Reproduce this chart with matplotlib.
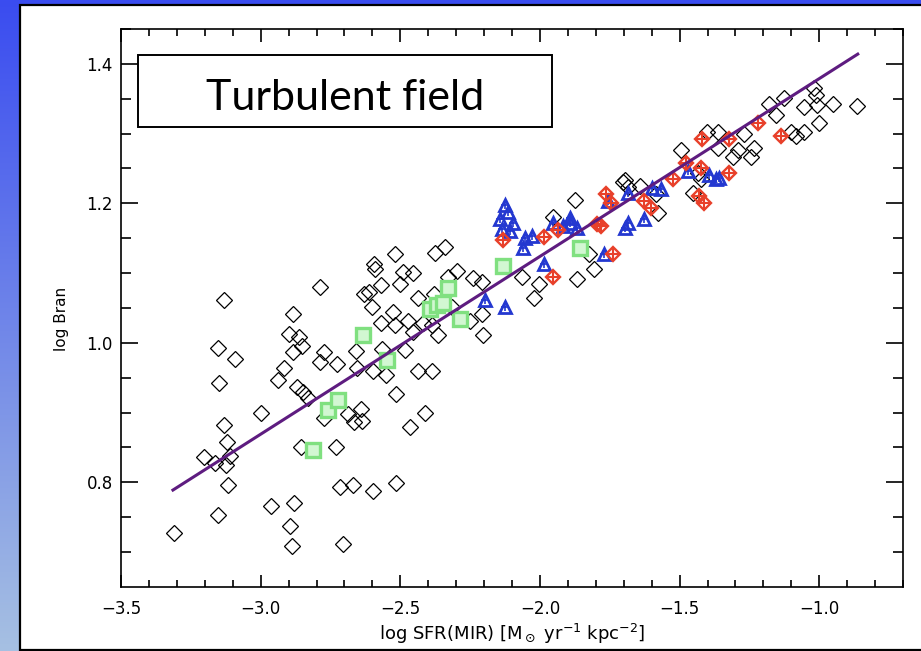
import numpy as np
import matplotlib
matplotlib.use("Agg")
import matplotlib.pyplot as plt
from matplotlib.patches import Rectangle

# black open diamonds: log SFR(MIR), log Bran
black_x = [-3.31, -3.152, -3.117, -3.203, -3.163, -3.124, -3.11, -3.12, -3.131, -3.149,
           -3.091, -3.152, -3.131, -2.998, -2.962, -2.880, -2.894, -2.887, -2.704, -2.715,
           -2.668, -2.597, -2.514, -2.855, -2.729, -2.937, -2.916, -2.869, -2.848, -2.830,
           -2.884, -2.898, -2.862, -2.884, -2.851, -2.787, -2.772, -2.787, -2.726, -2.658,
           -2.654, -2.597, -2.550, -2.514, -2.593, -2.590, -2.518, -2.629, -2.611, -2.568,
           -2.600, -2.500, -2.489, -2.453, -2.525, -2.568, -2.518, -2.471, -2.453, -2.565,
           -2.436, -2.378, -2.375, -2.339, -2.418, -2.385, -2.364, -2.482, -2.436, -2.385,
           -2.686, -2.640, -2.665, -2.636, -2.772, -2.464, -2.410,
           -2.328, -2.296, -2.238, -2.206, -2.314, -2.206, -2.249, -2.203, -2.063, -2.005,
           -2.023, -1.866, -1.808, -1.826, -1.952, -1.876, -1.701, -1.694, -1.686, -1.640,
           -1.586, -1.579, -1.496, -1.453, -1.435, -1.425, -1.400, -1.364, -1.271, -1.364,
           -1.292, -1.310, -1.235, -1.246, -1.181, -1.127, -1.156, -1.102, -1.084, -1.056,
           -1.056, -1.020, -1.013, -1.009, -1.002, -0.952, -0.866]
black_y = [0.727, 0.753, 0.796, 0.836, 0.828, 0.825, 0.838, 0.858, 0.882, 0.943,
           0.977, 0.993, 1.062, 0.900, 0.766, 0.770, 0.738, 0.709, 0.712, 0.794,
           0.796, 0.787, 0.799, 0.851, 0.851, 0.947, 0.964, 0.937, 0.930, 0.921,
           1.041, 1.013, 1.008, 0.987, 0.996, 1.080, 0.987, 0.973, 0.970, 0.989,
           0.964, 0.960, 0.954, 0.926, 1.113, 1.106, 1.127, 1.070, 1.073, 1.083,
           1.051, 1.084, 1.101, 1.100, 1.044, 1.029, 1.026, 1.031, 1.016, 0.991,
           1.064, 1.070, 1.129, 1.137, 1.028, 1.026, 1.012, 0.990, 0.960, 0.959,
           0.898, 0.905, 0.887, 0.888, 0.892, 0.879, 0.900,
           1.094, 1.103, 1.093, 1.087, 1.052, 1.041, 1.031, 1.012, 1.094, 1.085,
           1.065, 1.091, 1.106, 1.127, 1.181, 1.205, 1.230, 1.233, 1.223, 1.225,
           1.214, 1.186, 1.276, 1.215, 1.243, 1.235, 1.302, 1.302, 1.299, 1.279,
           1.276, 1.266, 1.279, 1.266, 1.343, 1.351, 1.326, 1.302, 1.297, 1.302,
           1.338, 1.366, 1.355, 1.341, 1.315, 1.343, 1.339]

# green squares
green_x = [-2.812, -2.758, -2.722, -2.633, -2.547, -2.392, -2.367, -2.346, -2.328, -2.285,
           -2.131, -1.855]
green_y = [0.846, 0.904, 0.918, 1.012, 0.975, 1.049, 1.055, 1.057, 1.078, 1.034,
           1.110, 1.136]

# blue triangles
blue_x = [-2.142, -2.113, -2.095, -2.136, -2.107, -2.124, -2.052, -2.027, -2.059, -1.987,
          -2.195, -2.124, -1.952, -1.916, -1.891, -1.866, -1.891, -1.686, -1.629, -1.772,
          -1.758, -1.597, -1.568, -1.471, -1.396, -1.360, -1.371, -1.683, -1.694]
blue_y = [1.178, 1.187, 1.172, 1.163, 1.160, 1.197, 1.150, 1.153, 1.136, 1.113,
          1.062, 1.052, 1.172, 1.168, 1.172, 1.165, 1.179, 1.172, 1.178, 1.127,
          1.204, 1.222, 1.221, 1.247, 1.240, 1.237, 1.235, 1.215, 1.165]

# red crossed diamonds
red_x = [-2.134, -1.987, -1.952, -1.765, -1.747, -1.629, -1.604, -1.737, -1.934, -1.794,
         -1.525, -1.478, -1.425, -1.432, -1.414, -1.418, -1.324, -1.324, -1.220, -1.138,
         -1.783]
red_y = [1.147, 1.152, 1.094, 1.214, 1.201, 1.204, 1.194, 1.127, 1.162, 1.170,
         1.235, 1.258, 1.251, 1.211, 1.201, 1.293, 1.293, 1.243, 1.315, 1.296,
         1.168]

# fitted relation
fit_x = [-3.314, -0.862]
fit_y = [0.789, 1.414]

W, H = 921, 651
fig = plt.figure(figsize=(W / 100, H / 100), dpi=100)

# slide background: blue gradient + white panel
bg = fig.add_axes([0, 0, 1, 1], zorder=-10)
top_c = np.array([58, 76, 240]) / 255.0
bot_c = np.array([166, 192, 226]) / 255.0
t = np.linspace(0, 1, 256)[:, None]
grad = top_c[None, :] * (1 - t) + bot_c[None, :] * t
bg.imshow(grad[:, None, :], aspect="auto", extent=[0, 1, 0, 1])
bg.add_patch(Rectangle((20 / W, 1 / H), 1.0, 645 / H, facecolor="white",
                       edgecolor="black", lw=1.6))
bg.set_xlim(0, 1)
bg.set_ylim(0, 1)
bg.axis("off")

ax = fig.add_axes([121 / W, 1 - 587 / H, (903 - 121) / W, (587 - 29) / H])
ax.set_facecolor("none")

ax.plot(black_x, black_y, "D", ms=8, mfc="none", mec="black", mew=0.9)
ax.plot(green_x, green_y, "s", ms=10.5, mfc="#d2f7d2", mec="#80e080", mew=2.4)
ax.plot(blue_x, blue_y, "^", ms=9, mfc="none", mec="#2438d0", mew=2.0)
ax.plot(blue_x, blue_y, "+", ms=6, mec="#2438d0", mew=1.2)
ax.plot(red_x, red_y, "D", ms=7.5, mfc="none", mec="#e8402a", mew=1.7)
ax.plot(red_x, red_y, "+", ms=10, mec="#e8402a", mew=1.5)
ax.plot(fit_x, fit_y, "-", color="#5e1c80", lw=2.2)

ax.set_xlim(-3.5, -0.7)
ax.set_ylim(0.65, 1.45)
ax.set_xticks([-3.5, -3.0, -2.5, -2.0, -1.5, -1.0])
ax.set_xticklabels(["\u22123.5", "\u22123.0", "\u22122.5", "\u22122.0", "\u22121.5", "\u22121.0"])
ax.set_xticks(np.arange(-3.4, -0.65, 0.1), minor=True)
ax.set_yticks([0.8, 1.0, 1.2, 1.4])
ax.set_yticks(np.arange(0.7, 1.451, 0.05), minor=True)

for s in ax.spines.values():
    s.set_linewidth(1.2)
ax.tick_params(which="both", direction="in", top=True, right=True, width=1.2,
               labelsize=12, colors="black")
ax.tick_params(axis="x", which="major", length=9, pad=9)
ax.tick_params(axis="x", which="minor", length=5)
ax.tick_params(axis="y", which="major", length=12, pad=6)
ax.tick_params(axis="y", which="minor", length=7)

ax.set_xlabel(r"log SFR(MIR) [M$_\odot$ yr$^{-1}$ kpc$^{-2}$]", fontsize=13)
ax.set_ylabel("log Bran", fontsize=11)
ax.xaxis.set_label_coords(0.5, -0.062)
ax.yaxis.set_label_coords(-0.066, 0.48)

# title box
fig.patches.append(Rectangle((138 / W, 1 - 127 / H), (552 - 138) / W, 72 / H,
                             transform=fig.transFigure, facecolor="white",
                             edgecolor="black", lw=1.4, zorder=5))
fig.text(345 / W, 1 - 110 / H, "Turbulent field", fontsize=31, family="Lato",
         ha="center", va="baseline", zorder=6)

fig.savefig("out.png", dpi=100)
